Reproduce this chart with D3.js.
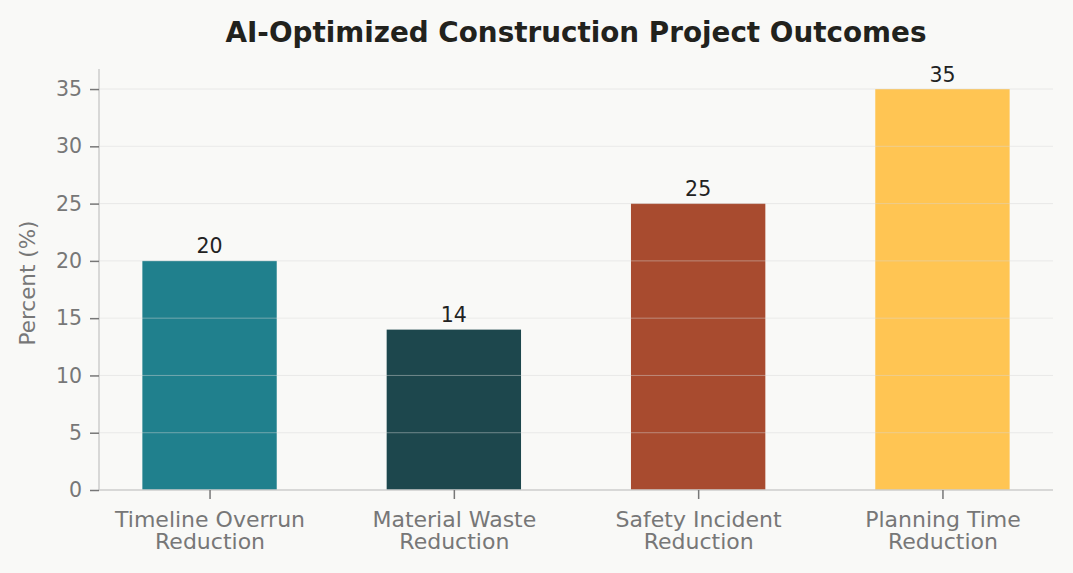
<!DOCTYPE html>
<html><head><meta charset="utf-8">
<script src="https://cdn.jsdelivr.net/npm/d3@7"></script>
<style>
html,body{margin:0;padding:0;background:#F9F9F7;}
svg{display:block;font-family:"DejaVu Sans",sans-serif;}
</style></head>
<body><svg id="c" width="1073" height="573"></svg>
<script>
const categories = [["Timeline Overrun","Reduction"],["Material Waste","Reduction"],["Safety Incident","Reduction"],["Planning Time","Reduction"]];
const values = [20, 14, 25, 35];
const colors = ["#20808D", "#1D474D", "#A84B2F", "#FFC553"];
const yTicks = [0, 5, 10, 15, 20, 25, 30, 35];
const title = "AI-Optimized Construction Project Outcomes";
const yLabel = "Percent (%)";

const svg = d3.select("#c");
svg.append("rect").attr("width",1073).attr("height",573).attr("fill","#F9F9F7");
const L = 99, R = 1053, T = 69, B = 490;
const x = d3.scaleLinear().domain([-0.4525, 3.4525]).range([L, R]);
const y = d3.scaleLinear().domain([0, 36.75]).range([B, T]);
const bw = 0.55;

// bars
svg.selectAll("rect.bar").data(values).enter().append("rect")
  .attr("x", (d,i)=>x(i-bw/2)).attr("width", (d,i)=>x(i+bw/2)-x(i-bw/2))
  .attr("y", d=>y(d)).attr("height", d=>B-y(d)).attr("fill", (d,i)=>colors[i]);

// grid on top
svg.selectAll("line.grid").data(yTicks.filter(t=>t>0)).enter().append("line")
  .attr("x1", L).attr("x2", R).attr("y1", d=>y(d)).attr("y2", d=>y(d))
  .attr("stroke", "#d8d8d8").attr("stroke-opacity", 0.45).attr("stroke-width", 1);

// value labels
svg.selectAll("text.val").data(values).enter().append("text")
  .attr("x", (d,i)=>x(i)).attr("y", d=>y(d)-7.5).attr("text-anchor","middle")
  .attr("font-size", 20.5).attr("fill", "#222222").text(d=>d);

// y axis
const ya = svg.append("g").attr("transform",`translate(${L},0)`)
  .call(d3.axisLeft(y).tickValues(yTicks).tickSize(9).tickPadding(8));
ya.select(".domain").attr("stroke","#cccccc").attr("stroke-width",1.5).attr("d",`M0,${T}V${B}`);
ya.selectAll(".tick line").attr("stroke","#777777").attr("stroke-width",1.5);
ya.selectAll(".tick text").attr("fill","#777777").attr("font-size",20.5).attr("font-family","DejaVu Sans");

// x axis
const xa = svg.append("g").attr("transform",`translate(0,${B})`)
  .call(d3.axisBottom(x).tickValues([0,1,2,3]).tickSize(9).tickFormat(""));
xa.select(".domain").attr("stroke","#cccccc").attr("stroke-width",1.5).attr("d",`M${L},0H${R}`);
xa.selectAll(".tick line").attr("stroke","#777777").attr("stroke-width",1.5);
xa.selectAll(".tick").each(function(d){
  const t = d3.select(this).append("text").attr("fill","#777777").attr("font-size",22)
    .attr("text-anchor","middle").attr("font-family","DejaVu Sans");
  categories[d].forEach((s,j)=>t.append("tspan").attr("x",0).attr("y",37+j*22.3).text(s));
});

// title
svg.append("text").attr("x", 576).attr("y", 42).attr("text-anchor","middle")
  .attr("font-size", 27.8).attr("font-weight","bold").attr("fill","#22221D").text(title);

// y label
svg.append("text").attr("transform",`translate(35,283) rotate(-90)`)
  .attr("text-anchor","middle").attr("font-size",21.5).attr("fill","#777777").text(yLabel);
</script></body></html>
